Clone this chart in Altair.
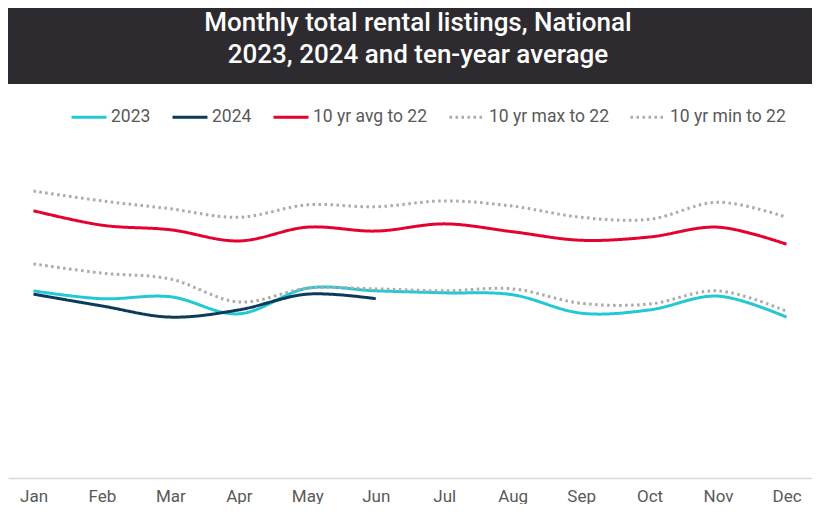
import altair as alt
import pandas as pd

months = ["Jan", "Feb", "Mar", "Apr", "May", "Jun", "Jul", "Aug", "Sep", "Oct", "Nov", "Dec"]
series_names = ["2023", "2024", "10 yr avg to 22", "10 yr max to 22", "10 yr min to 22"]

# Monthly total rental listings (thousands)
y2023 = [28.5, 27.3, 27.6, 25.0, 28.9, 28.5, 28.2, 27.9, 25.1, 25.6, 27.7, 24.5]
y2024 = [28.0, 26.2, 24.5, 25.6, 28.0, 27.3]
avg10 = [40.7, 38.5, 37.8, 36.1, 38.2, 37.6, 38.7, 37.5, 36.2, 36.7, 38.2, 35.6]
max10 = [43.7, 42.2, 41.0, 39.7, 41.6, 41.3, 42.2, 41.4, 39.7, 39.4, 42.0, 39.7]
min10 = [32.6, 31.2, 30.3, 26.8, 28.9, 28.8, 28.5, 28.8, 26.6, 26.5, 28.5, 25.4]

colors = ["#22c8d4", "#0b3a5a", "#e4032e", "#aaaaaa", "#aaaaaa"]
dashes = [[1, 0], [1, 0], [1, 0], [2.5, 3.5], [2.5, 3.5]]

rows = []
for name, vals in zip(series_names, [y2023, y2024, avg10, max10, min10]):
    for i, (m, v) in enumerate(zip(months, vals)):
        rows.append({"month": m, "idx": i, "value": v, "series": name})
df = pd.DataFrame(rows)

title_text = "Monthly total rental listings, National\n2023, 2024 and ten-year average"

header = alt.Chart(pd.DataFrame({"t": [title_text]})).mark_text(
    lineBreak="\n", lineHeight=32, fontSize=26, font="Roboto", fontWeight=500,
    color="white", align="center", baseline="alphabetic"
).encode(
    text="t:N", x=alt.value(410), y=alt.value(23)
).properties(width=804, height=76, view=alt.ViewConfig(fill="#2e2b30", stroke=None))

legend = alt.Legend(title=None, orient="none", direction="horizontal", legendX=62, legendY=90)

main = alt.Chart(df).mark_line(interpolate="cardinal", strokeWidth=3).encode(
    x=alt.X("month:N", sort=months, title=None,
            scale=alt.Scale(type="point", padding=0.3725),
            axis=alt.Axis(labelAngle=0, ticks=False, domainColor="#d9d9d9", domainWidth=1.5,
                          labelColor="#595959", labelFontSize=17, labelFont="Roboto",
                          labelPadding=10, grid=False)),
    y=alt.Y("value:Q", axis=None, scale=alt.Scale(domain=[0, 60], nice=False, zero=True)),
    color=alt.Color("series:N", sort=series_names,
                    scale=alt.Scale(domain=series_names, range=colors), legend=legend),
    strokeDash=alt.StrokeDash("series:N", sort=series_names,
                              scale=alt.Scale(domain=series_names, range=dashes), legend=legend),
    order=alt.Order("idx:Q"),
).properties(width=804, height=394)

chart = alt.vconcat(header, main, spacing=0).configure_view(stroke=None).configure_legend(
    symbolType="stroke", symbolSize=1225, symbolStrokeWidth=3, labelFontSize=17.5,
    labelFont="Roboto", labelColor="#595959", columnPadding=15, labelOffset=3,
    symbolOpacity=1
).properties(padding=0)

chart.save("out.html", embed_options={"renderer": "svg", "actions": False})
